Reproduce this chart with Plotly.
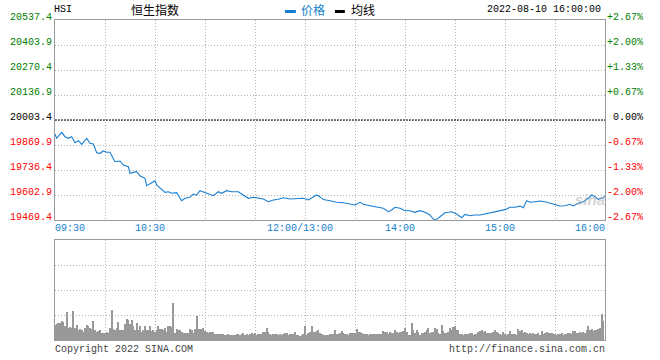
import plotly.graph_objects as go

# ---------------- data ----------------
prev_close = 20003.4
price_ticks = [19469.4, 19602.9, 19736.4, 19869.9, 20003.4, 20136.9, 20270.4, 20403.9, 20537.4]

# minutes since 09:30 (trading minutes, 12:00 and 13:00 share index 150)
price_minutes = [0, 1, 4, 6, 8, 10, 12, 14, 16, 19, 21, 23, 25, 27, 29, 31, 33, 36, 39, 41,
                 44, 45, 49, 51, 54, 55, 58, 60, 61, 64, 66, 68, 70, 73, 75, 76, 78, 81, 83, 85,
                 87, 90, 93, 95, 98, 100, 103, 106, 110, 113, 116, 119, 122, 125, 128, 131, 134, 137, 141, 145,
                 149,
                 152, 155, 157, 159, 161, 165, 169, 173, 177, 180, 183, 185, 189, 193, 197, 200, 202, 204, 207, 210,
                 213, 216, 219, 222, 225, 227, 229, 231, 234, 238, 241, 244, 246, 249, 252, 255, 258, 261, 264, 267,
                 270, 273, 276, 279, 281, 283, 285, 288, 291, 294, 297, 300, 303, 306, 309, 311, 314, 317, 320, 322,
                 324, 326, 328, 330]
price_values = [19928.6, 19905.7, 19937.7, 19914.2, 19905.7, 19914.2, 19882.2, 19892.9, 19873.6, 19905.7,
                19879.0, 19875.2, 19828.8, 19825.6, 19837.9, 19830.9, 19830.9, 19780.7, 19784.5, 19763.1,
                19754.0, 19718.8, 19727.3, 19706.0, 19692.1, 19652.6, 19668.6, 19679.3, 19656.3, 19629.6,
                19617.3, 19620.5, 19612.0, 19615.2, 19588.5, 19572.5, 19585.3, 19590.6, 19608.2, 19602.9,
                19625.9, 19615.2, 19608.2, 19599.2, 19620.5, 19612.0, 19625.9, 19620.5, 19620.5, 19602.9,
                19585.3, 19590.6, 19585.3, 19581.5, 19567.1, 19576.2, 19579.9, 19588.5, 19581.5, 19585.3,
                19585.3,
                19576.2, 19590.6, 19602.9, 19592.7, 19578.4, 19572.5, 19563.9, 19561.8, 19554.8, 19549.5,
                19563.9, 19553.2, 19545.8, 19537.2, 19531.9, 19513.7, 19522.8, 19537.2, 19531.9, 19519.1,
                19519.1, 19510.5, 19519.1, 19510.5, 19496.1, 19473.1, 19473.1, 19487.0, 19508.4, 19513.7,
                19501.1, 19481.7, 19499.5, 19492.0, 19496.1, 19496.1, 19501.1, 19508.4, 19513.7, 19519.1,
                19524.6, 19537.2, 19537.2, 19543.5, 19534.5, 19572.5, 19563.9, 19567.1, 19570.9, 19567.1,
                19558.6, 19553.2, 19544.2, 19545.8, 19553.2, 19544.2, 19558.6, 19567.1, 19585.3, 19602.9,
                19593.8, 19579.9, 19585.3, 19595.0]

vol_0930 = [15.3, 16, 17.3, 17.3, 19, 17.7, 14.3, 28.3, 12.3, 13, 12.3, 29.3, 12.3, 15.3, 10.3, 11.3, 10.3, 7.7, 12.3, 15.3,
            14.3, 12.3, 11.3, 19.3, 10.3, 7.7, 9, 9.7, 6.7, 6.7]
vol_1000 = [6.7, 8.3, 6.7, 12.3, 30.3, 11.3, 9.7, 12.3, 18.3, 10.3, 9.7, 10.3, 16.3, 21.3, 19.7, 16.3, 20.3, 14.3, 9.7, 17.3,
            9.7, 14.3, 8.3, 10.3, 14.3, 10.3, 9.7, 14.3, 8.7, 9.7]
vol_1030 = [7.7, 9.7, 14.3, 11.3, 10.7, 10.3, 12.3, 7.7, 13.7, 14.3, 13.3, 37.3, 6.7, 11.3, 10.3, 9.7, 8.3, 6.7, 6.7, 6.7,
            7.3, 11.3, 9.7, 6.7, 11.3, 24.3, 11, 11.3, 11.3, 12.3]
vol_1100 = [9.3, 8.3, 6.7, 8.3, 7.7, 7.7, 6.3, 5.7, 5.7, 6.0, 5.7, 5.7, 5.3, 5, 5.7, 5, 5, 5.3, 5, 5.7,
            5.7, 5.3, 5.7, 7.3, 5, 5.7, 4.7, 6.3, 6.7, 6.3]
vol_1130 = [7.3, 4.7, 5.7, 5.7, 6.3, 8.3, 8.3, 12.3, 7.7, 5.7, 5, 5.7, 6.3, 5.7, 4.7, 6.3, 4.7, 5.7, 7.3, 7.3,
            4.7, 5.7, 6.3, 6.3, 8.3, 4.7, 4.7, 3.7, 5.0, 5.7]
vol_1300 = [13.7, 4.7, 6.7, 8.3, 14.3, 7.7, 8.3, 9.3, 10.3, 6.7, 5.7, 4.7, 4.7, 5.3, 4.7,
            6.3, 5.7, 5.7, 10.3, 5.7, 6.3, 7.3, 9.3, 7.3, 6.3, 5.7, 4.7, 6.7, 7.3, 6.7]
vol_1330 = [6.7, 11.3, 8.3, 7.7, 7.3, 5.7, 5.7, 5.7, 4.7, 5.7, 5.7, 6.0, 5.7, 5.7, 5.7, 5.7, 5.7, 9.3, 7.7, 8.3,
            6.3, 8.3, 7.3, 7.3, 10.3, 7.7, 7.0, 7.7, 8.3, 9.0]
vol_1400 = [12.3, 7.7, 4.7, 5.0, 17.3, 10.3, 6.7, 10.3, 8.3, 4.7, 7.3, 7.3, 7.7, 10.3, 12.3, 6.7, 8.3, 8.3, 12.3, 11.3,
            6.7, 6.0, 15.3, 9.3, 7.3, 7.3, 8.3, 12.3, 10.3, 13.3]
vol_1430 = [14.3, 10.3, 10.3, 5.7, 5.7, 5.0, 5.7, 5.7, 5.7, 7.3, 6.7, 4.7, 6.3, 6.0, 7.7, 9.3, 10.3, 7.7, 9.3, 7.3,
            6.7, 7.0, 6.7, 7.7, 10.3, 8.3, 7.3, 6.3, 4.7, 7.7]
vol_1500 = [5.7, 5.0, 5.7, 9.3, 6.3, 6.3, 6.3, 5.3, 11.3, 9.3, 10.3, 7.3, 8.3, 6.7, 6.0, 6.7, 6.3, 6.7, 5.7, 6.3,
            6.7, 5.0, 9.3, 5.7, 7.3, 8.3, 6.7, 6.7, 6.7, 5.7]
vol_1530 = [5.7, 5.0, 6.3, 5.7, 6.7, 5.0, 5.7, 5.7, 7.3, 6.7, 6.0, 9.3, 9.3, 7.3, 7.3, 8.3, 7.3, 8.3, 7.0, 10.3,
            13.7, 10.3, 11.3, 9.3, 10.3, 10.3, 11.0, 12.3, 26.3, 19.3]
volumes = vol_0930 + vol_1000 + vol_1030 + vol_1100 + vol_1130 + vol_1300 + vol_1330 + vol_1400 + vol_1430 + vol_1500 + vol_1530
vol_minutes = list(range(len(volumes)))

time_labels = ["09:30", "10:30", "12:00/13:00", "14:00", "15:00", "16:00"]
time_label_minutes = [0, 60, 150, 210, 270, 330]

title_code = "HSI"
title_name = "恒生指数"
legend_names = ["价格", "均线"]
date_text = "2022-08-10 16:00:00"

# ---------------- styles ----------------
MONO = "Liberation Mono, DejaVu Sans Mono, monospace"
CJK = "Noto Sans CJK SC"
BLUE = "#1a7fd0"
LBLUE = "#1581cc"
GREEN = "#008000"
RED = "#ff0000"
GRID = "#b4b4b4"
BORDER = "#9a9a9a"

fig = go.Figure()
fig.add_trace(go.Scatter(x=price_minutes, y=price_values, mode="lines",
                         line=dict(color=BLUE, width=1.1), xaxis="x", yaxis="y",
                         hoverinfo="skip", showlegend=False))
fig.add_trace(go.Bar(x=vol_minutes, y=volumes, width=0.6, marker=dict(color="#999999", line=dict(width=0)),
                     xaxis="x2", yaxis="y2", hoverinfo="skip", showlegend=False))

grid_minutes = list(range(0, 331, 30))
axis_common = dict(showline=True, mirror=True, linecolor=BORDER, linewidth=1, showgrid=True,
                   gridcolor=GRID, griddash="1px,2px", gridwidth=1, zeroline=False,
                   showticklabels=False, ticks="", fixedrange=True)

fig.update_layout(
    width=660, height=360,
    margin=dict(l=55, r=55, t=20, b=20),
    paper_bgcolor="white", plot_bgcolor="white",
    xaxis=dict(range=[0, 330], tickvals=grid_minutes, domain=[0, 1], anchor="y", **axis_common),
    yaxis=dict(range=[price_ticks[0], price_ticks[-1]], tickvals=price_ticks, domain=[0.375, 1],
               anchor="x", **axis_common),
    xaxis2=dict(range=[0, 330], tickvals=grid_minutes, domain=[0, 1], anchor="y2", **axis_common),
    yaxis2=dict(range=[0, 100], tickvals=[0, 25, 50, 75, 100], domain=[0, 0.3125], anchor="x2", **axis_common),
    bargap=0,
)

# previous close dashed line
fig.add_shape(type="line", xref="x", yref="y", x0=0, x1=330, y0=prev_close, y1=prev_close,
              line=dict(color="black", width=1, dash="2px,1px"), layer="above")

anns = []


def ann(text, x, y, xref="paper", yref="paper", xanchor="left", yanchor="middle", color="black",
        size=10, family=MONO, xshift=0, yshift=0):
    anns.append(dict(text=text, x=x, y=y, xref=xref, yref=yref, xanchor=xanchor, yanchor=yanchor,
                     showarrow=False, font=dict(color=color, size=size, family=family),
                     borderpad=0, borderwidth=0, xshift=xshift, yshift=yshift))


# price / percentage labels
for v in price_ticks:
    pct = (v - prev_close) / prev_close * 100
    if abs(pct) < 0.005:
        col, ptxt = "black", "0.00%"
    elif pct > 0:
        col, ptxt = GREEN, f"+{pct:.2f}%"
    else:
        col, ptxt = RED, f"{pct:.2f}%"
    ann(f"{v:.1f}", -0.0055, v, yref="y", xanchor="right", color=col, yshift=3)
    ann(ptxt, 1.069, v, yref="y", xanchor="right", color=col, yshift=3)

# time labels
for lab, m in zip(time_labels, time_label_minutes):
    if m == 0:
        ann(lab, m, 0.35, xref="x", xanchor="left", color=LBLUE)
    elif m == 330:
        ann(lab, m, 0.35, xref="x", xanchor="right", color=LBLUE)
    else:
        ann(lab, m, 0.35, xref="x", xanchor="center", color=LBLUE, xshift=-5)

# header
ann(title_code, -0.0018, 1.034)
ann(title_name, 0.138, 1.034, family=CJK, size=12)
ann(legend_names[0], 0.447, 1.034, family=CJK, size=12, color=LBLUE)
ann(legend_names[1], 0.538, 1.034, family=CJK, size=12)
ann(date_text, 0.9927, 1.034, xanchor="right")

# footer
ann("Copyright 2022 SINA.COM", 0, -0.031, color="#444444")
ann("http://finance.sina.com.cn", 1, -0.031, xanchor="right", color="#444444")

# watermark
ann("<b><i>sina</i></b>", 0.972, 0.44, xanchor="center", color="rgba(175,175,175,0.55)",
    size=15, family="Liberation Sans, Arial")

fig.update_layout(annotations=anns)

# legend swatches
fig.add_shape(type="rect", xref="paper", yref="paper", x0=0.418, x1=0.438, y0=1.0219, y1=1.0312,
              fillcolor=BLUE, line=dict(width=0))
fig.add_shape(type="rect", xref="paper", yref="paper", x0=0.509, x1=0.527, y0=1.0219, y1=1.0312,
              fillcolor="black", line=dict(width=0))

fig.write_html("out.html", config={"displayModeBar": False},
               post_script="document.body.style.margin='0';document.body.style.overflow='hidden';")
